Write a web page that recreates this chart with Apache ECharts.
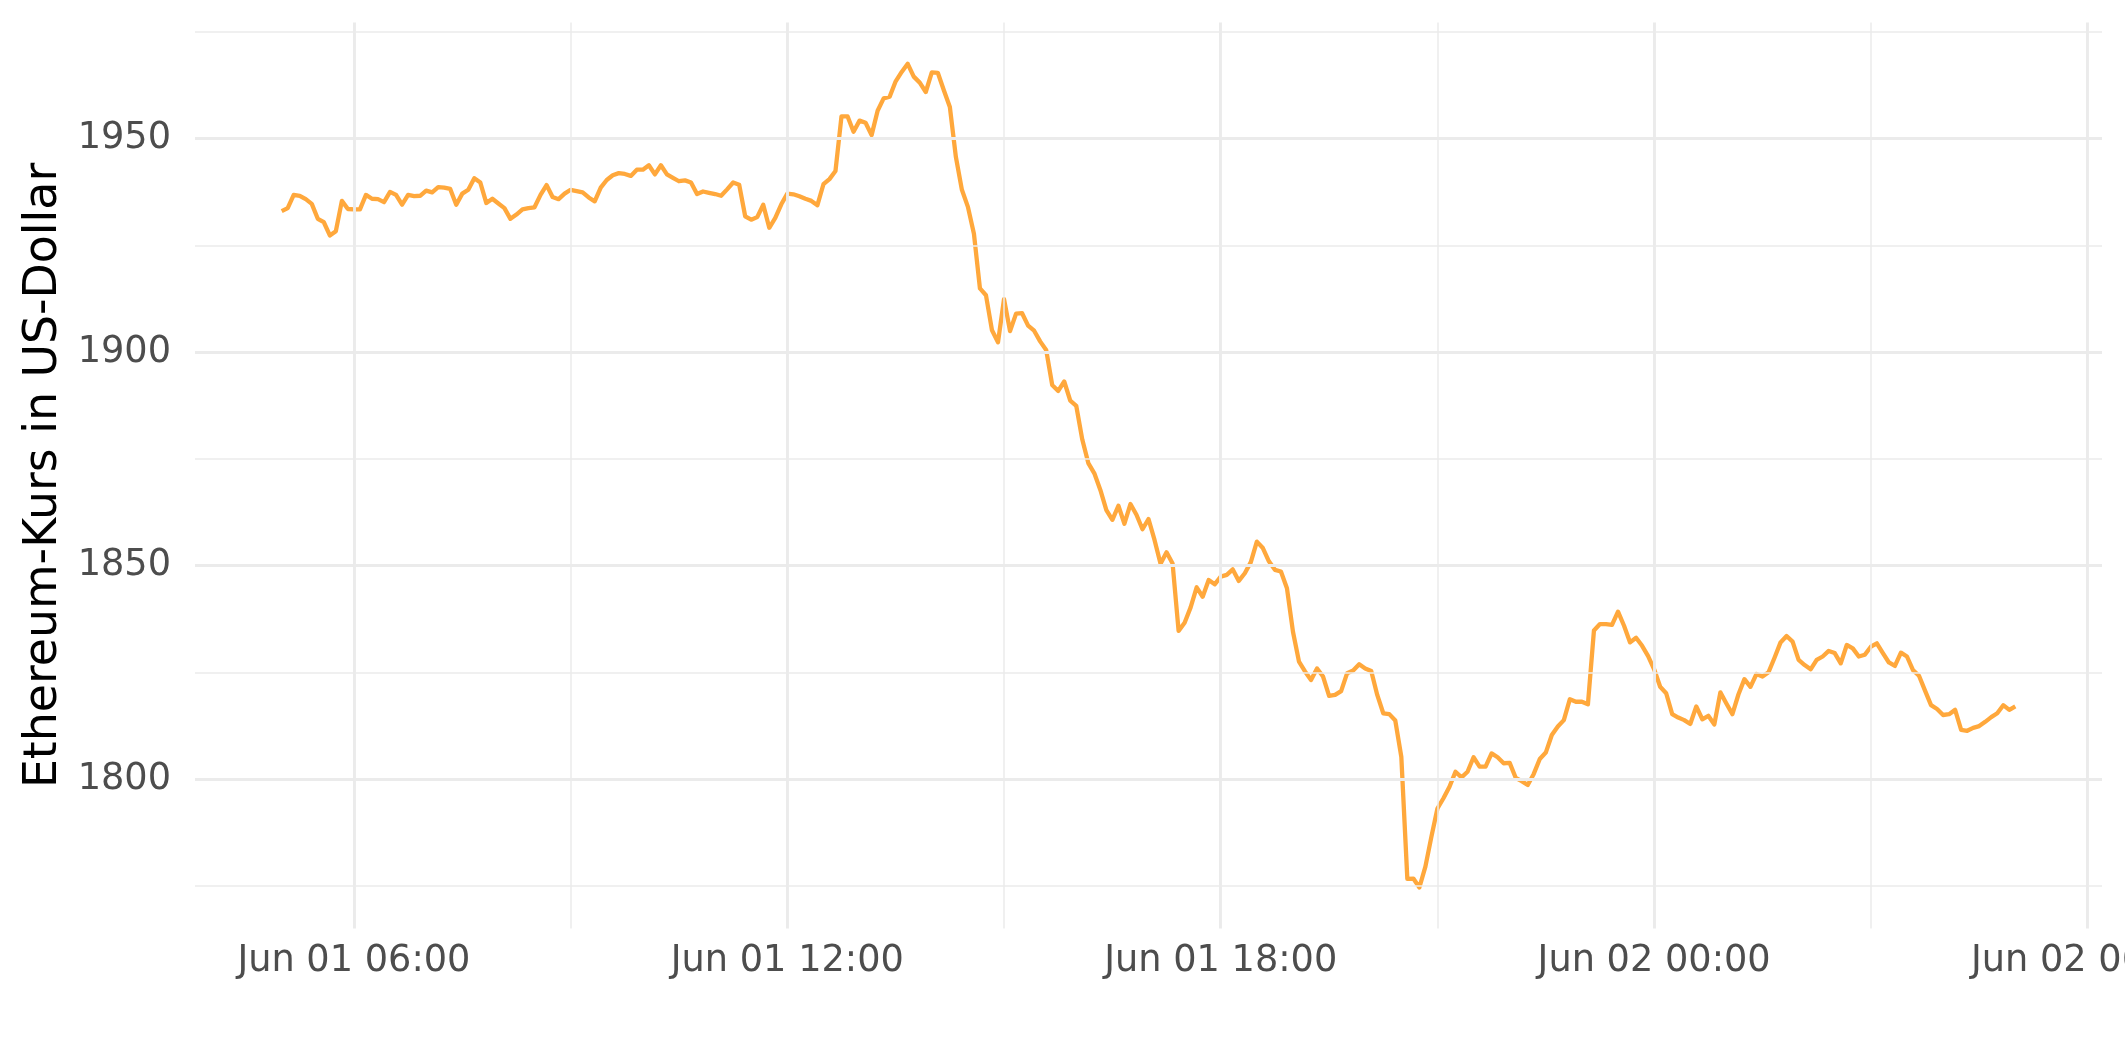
<!DOCTYPE html>
<html>
<head>
<meta charset="utf-8">
<script src="https://cdn.jsdelivr.net/npm/echarts@6/dist/echarts.min.js"></script>
<style>
  html, body { margin: 0; padding: 0; background: #ffffff; overflow: hidden; }
  #chart { width: 2125px; height: 1062px; }
</style>
</head>
<body>
<div id="chart"></div>
<script>
// ---- data ----
const startMinute = 300;          // Jun 01 05:00, minutes since Jun 01 00:00
const stepMinutes = 5;
const prices = [
  1933.0, 1933.7, 1936.8, 1936.6, 1935.8, 1934.7, 1931.2, 1930.4, 1927.3, 1928.3,
  1935.4, 1933.5, 1933.4, 1933.4, 1936.8, 1935.9, 1935.8, 1935.1, 1937.5, 1936.8,
  1934.5, 1936.8, 1936.5, 1936.6, 1937.8, 1937.4, 1938.6, 1938.5, 1938.2, 1934.5,
  1937.1, 1938.0, 1940.7, 1939.7, 1934.9, 1935.9, 1934.8, 1933.7, 1931.2, 1932.2,
  1933.4, 1933.7, 1933.9, 1936.8, 1939.1, 1936.3, 1935.8, 1937.1, 1938.0, 1937.7,
  1937.4, 1936.2, 1935.3, 1938.5, 1940.3, 1941.4, 1941.9, 1941.7, 1941.25, 1942.7,
  1942.7, 1943.75, 1941.6, 1943.75, 1941.6, 1940.8, 1940.0, 1940.2, 1939.7, 1937.0,
  1937.6, 1937.3, 1937.0, 1936.6, 1938.1, 1939.7, 1939.2, 1931.8, 1931.0, 1931.6,
  1934.5, 1929.1, 1931.4, 1934.6, 1937.1, 1936.95, 1936.5, 1935.9, 1935.4, 1934.4,
  1939.3, 1940.5, 1942.4, 1955.2, 1955.2, 1951.6, 1954.2, 1953.7, 1950.8, 1956.5,
  1959.4, 1959.8, 1963.4, 1965.6, 1967.5, 1964.5, 1963.1, 1960.9, 1965.5, 1965.4,
  1961.3, 1957.4, 1945.7, 1938.0, 1934.0, 1927.7, 1914.9, 1913.3, 1905.1, 1902.3,
  1912.4, 1904.9, 1909.0, 1909.1, 1906.2, 1905.0, 1902.5, 1900.5, 1892.3, 1890.9,
  1893.1, 1888.6, 1887.4, 1879.5, 1874.0, 1871.6, 1867.7, 1863.0, 1860.7, 1864.0,
  1859.8, 1864.4, 1861.9, 1858.5, 1860.9, 1856.0, 1850.4, 1853.1, 1850.5, 1834.7,
  1836.6, 1840.2, 1844.9, 1842.7, 1846.6, 1845.6, 1847.4, 1847.8, 1849.1, 1846.4,
  1848.2, 1850.8, 1855.6, 1854.1, 1851.0, 1849.0, 1848.6, 1844.7, 1834.5, 1827.5,
  1825.2, 1823.2, 1825.9, 1824.0, 1819.5, 1819.7, 1820.6, 1824.8, 1825.4, 1826.9,
  1825.9, 1825.3, 1819.7, 1815.4, 1815.2, 1813.7, 1805.2, 1776.6, 1776.7, 1774.6,
  1779.5, 1786.5, 1793.1, 1795.5, 1798.2, 1801.7, 1800.4, 1801.7, 1805.1, 1802.9,
  1802.9, 1806.0, 1805.1, 1803.7, 1803.8, 1800.3, 1799.5, 1798.6, 1801.2, 1804.7,
  1806.2, 1810.3, 1812.3, 1813.8, 1818.7, 1818.1, 1818.1, 1817.5, 1834.8, 1836.3,
  1836.3, 1836.1, 1839.2, 1835.9, 1832.0, 1833.1, 1831.2, 1828.8, 1825.7, 1821.6,
  1820.1, 1815.2, 1814.4, 1813.8, 1812.9, 1817.0, 1814.0, 1814.8, 1812.8, 1820.3,
  1817.7, 1815.2, 1819.8, 1823.4, 1821.6, 1824.6, 1824.0, 1825.0, 1828.4, 1832.0,
  1833.5, 1832.2, 1827.9, 1826.7, 1825.7, 1827.9, 1828.7, 1830.0, 1829.5, 1827.1,
  1831.4, 1830.6, 1828.7, 1829.1, 1831.0, 1831.8, 1829.5, 1827.3, 1826.5, 1829.6,
  1828.7, 1825.5, 1824.2, 1820.7, 1817.3, 1816.4, 1815.0, 1815.2, 1816.2, 1811.5,
  1811.3, 1812.0, 1812.4, 1813.4, 1814.5, 1815.4, 1817.3, 1816.2, 1817.0
];
const xTickMinutes = [360, 720, 1080, 1440, 1800];
const xTickLabels = ['Jun 01 06:00', 'Jun 01 12:00', 'Jun 01 18:00', 'Jun 02 00:00', 'Jun 02 06:00'];
const xMinorMinutes = [540, 900, 1260, 1620];
const yTickValues = [1800, 1850, 1900, 1950];
const yMinorValues = [1775, 1825, 1875, 1925, 1975];
const yTitle = 'Ethereum-Kurs in US-Dollar';

// ---- chart ----
const points = prices.map((p, i) => [startMinute + i * stepMinutes, p]);
const GRID = '#EBEBEB';
const FONT = 'DejaVu Sans';

const gridMarks = [];
yMinorValues.forEach(v => gridMarks.push({ yAxis: v, lineStyle: { color: GRID, width: 1.5, type: 'solid' } }));
xMinorMinutes.forEach(v => gridMarks.push({ xAxis: v, lineStyle: { color: GRID, width: 1.5, type: 'solid' } }));
yTickValues.forEach(v => gridMarks.push({ yAxis: v, lineStyle: { color: GRID, width: 2.9, type: 'solid' } }));
xTickMinutes.forEach(v => gridMarks.push({ xAxis: v, lineStyle: { color: GRID, width: 2.9, type: 'solid' } }));

const chart = echarts.init(document.getElementById('chart'), null, { renderer: 'canvas' });
chart.setOption({
  animation: false,
  backgroundColor: '#ffffff',
  grid: { left: 195, right: 23, top: 22.4, bottom: 133.5, containLabel: false, outerBoundsMode: 'none' },
  xAxis: {
    type: 'value',
    min: 228, max: 1812,
    axisLine: { show: false },
    axisTick: { show: false },
    splitLine: { show: false },
    axisLabel: {
      customValues: xTickMinutes,
      formatter: v => xTickLabels[xTickMinutes.indexOf(v)],
      color: '#4D4D4D', fontSize: 36.7, fontFamily: FONT, margin: 14, lineHeight: 37,
      hideOverlap: false
    }
  },
  yAxis: {
    type: 'value',
    min: 1765, max: 1977.2,
    axisLine: { show: false },
    axisTick: { show: false },
    splitLine: { show: false },
    axisLabel: {
      customValues: yTickValues,
      formatter: v => String(v),
      color: '#4D4D4D', fontSize: 36.7, fontFamily: FONT, margin: 24
    },
    name: yTitle,
    nameLocation: 'middle',
    nameGap: 120,
    nameRotate: 90,
    nameTextStyle: { color: '#000000', fontSize: 45.8, fontFamily: FONT }
  },
  series: [
    {
      type: 'line', data: points, z: 1, silent: true,
      showSymbol: false, lineStyle: { opacity: 0 },
      markLine: { silent: true, symbol: ['none', 'none'], label: { show: false }, animation: false, data: gridMarks }
    },
    {
      type: 'line', data: points, z: 3, silent: true,
      showSymbol: false, smooth: false,
      lineStyle: { color: '#FFA83C', width: 4.3, join: 'round', cap: 'butt' }
    }
  ]
});
</script>
</body>
</html>
